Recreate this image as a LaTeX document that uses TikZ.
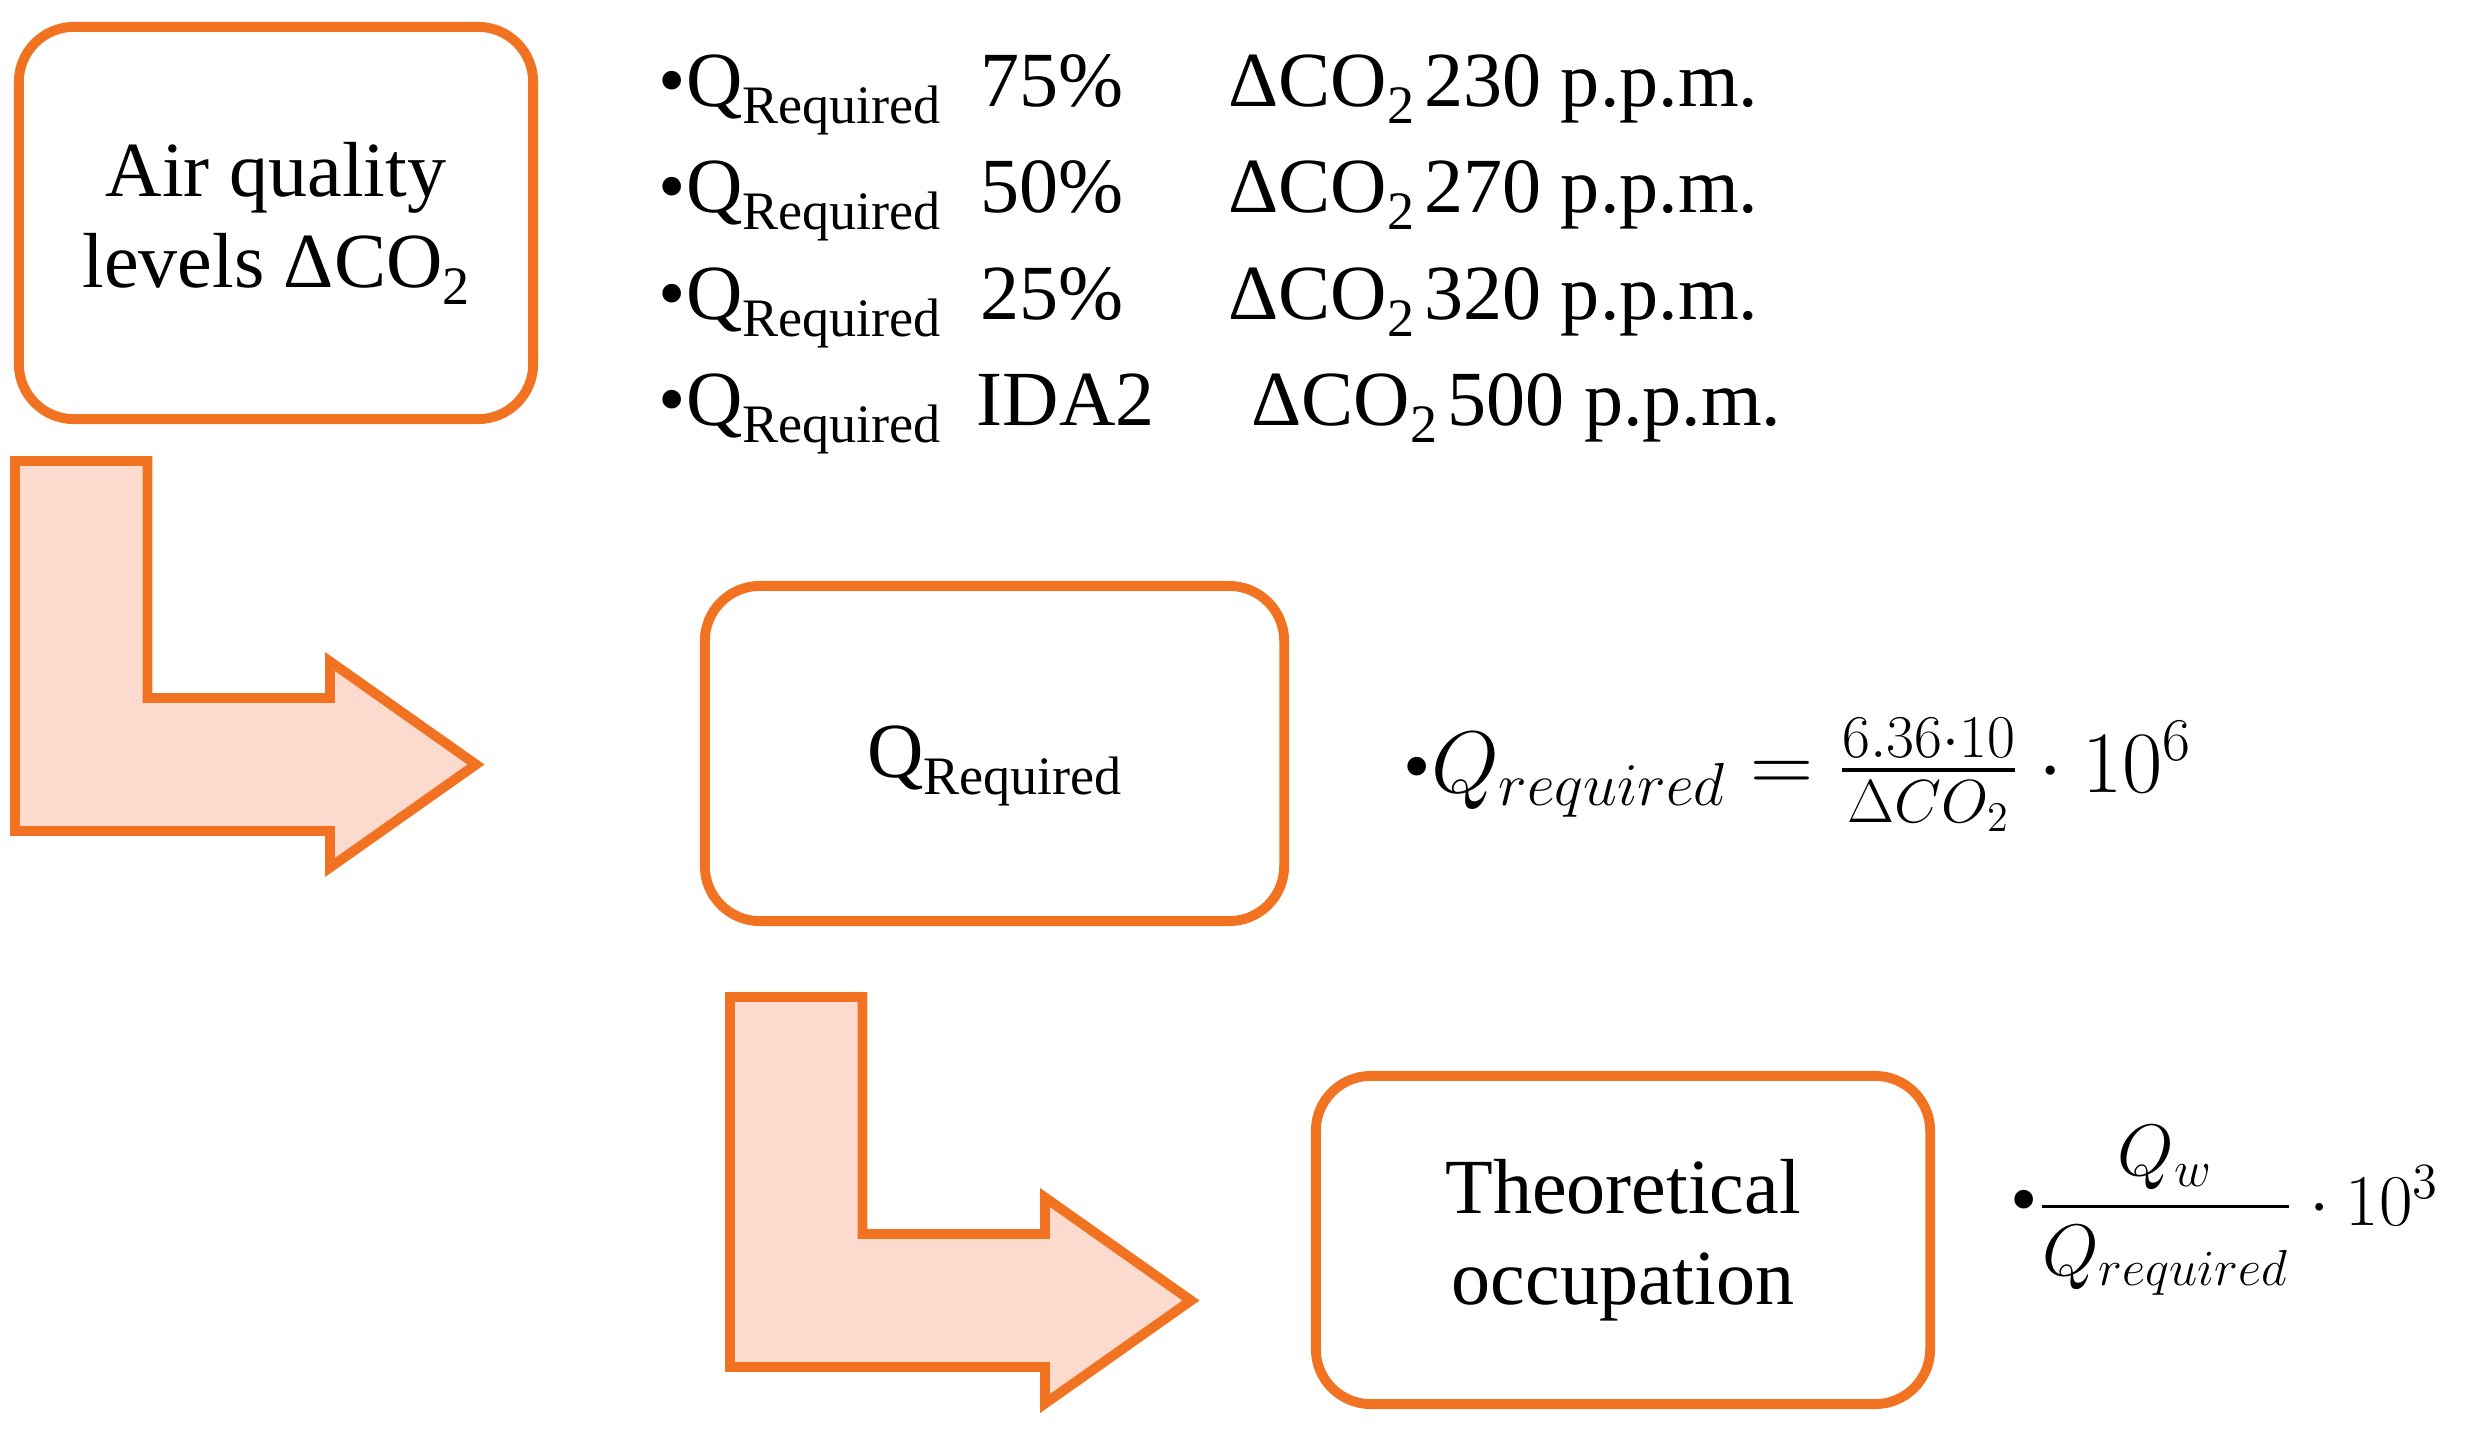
\documentclass[tikz,border=0pt]{standalone}
\usepackage{amsmath}
\usepackage{fontspec}
\setmainfont{Liberation Serif}
\definecolor{orng}{RGB}{241,115,34}
\definecolor{salmonfill}{RGB}{253,218,206}
\newcommand\mainsz{\fontsize{22.2pt}{25.9pt}\selectfont}
\newcommand\lsub[1]{\raisebox{-0.17cm}{\fontsize{15.4pt}{15.4pt}\selectfont #1}}
\newcommand\Qreq{Q\lsub{Required}}
\tikzset{
  box/.style={draw=orng, line width=2.8pt, rounded corners=0.55cm, fill=white,
    align=center, inner sep=0pt, font=\mainsz},
  lt/.style={anchor=base west, inner sep=0pt, font=\mainsz},
  mt/.style={anchor=base west, inner sep=0pt, font=\mainsz},
  larrow/.pic={
    \draw[draw=orng, fill=salmonfill, line width=2.8pt, line join=miter]
      (0,0) -- (132.5,0) -- (132.5,237) -- (315,237) -- (315,200.5)
      -- (461,303.5) -- (315,406.5) -- (315,370) -- (0,370) -- cycle;
  }
}
\begin{document}
\begin{tikzpicture}[x=0.01cm, y=-0.01cm]
\useasboundingbox (0,0) rectangle (2472,1439);

% boxes
\node[box, minimum width=5.14cm, minimum height=3.92cm] (air) at (276,223)
  {Air quality\\levels ΔCO\lsub{2}};
\node[box, minimum width=5.79cm, minimum height=3.35cm] (qreq) at (994.5,753.5)
  {\raisebox{-0.12cm}[\height][\depth]{\Qreq}};
\node[box, minimum width=6.14cm, minimum height=3.28cm] (occ) at (1623,1240)
  {Theoretical\\occupation};

% block arrows
\pic at (15,461) {larrow};
\pic at (730,997) {larrow};

% list
\node[lt] (r1a) at (658,106) {•\Qreq};
\node[lt] (r1b) at (980,106) {75\%};
\node[lt] (r1c) at (1228,106) {ΔCO\lsub{2}\hspace{0.1cm}230 p.p.m.};
\node[lt] (r2a) at (658,212.5) {•\Qreq};
\node[lt] (r2b) at (980,212.5) {50\%};
\node[lt] (r2c) at (1228,212.5) {ΔCO\lsub{2}\hspace{0.1cm}270 p.p.m.};
\node[lt] (r3a) at (658,319) {•\Qreq};
\node[lt] (r3b) at (980,319) {25\%};
\node[lt] (r3c) at (1228,319) {ΔCO\lsub{2}\hspace{0.1cm}320 p.p.m.};
\node[lt] (r4a) at (658,425) {•\Qreq};
\node[lt] (r4b) at (976,425) {IDA2};
\node[lt] (r4c) at (1251,425) {ΔCO\lsub{2}\hspace{0.1cm}500 p.p.m.};

% formulas
\node[mt] (f1) at (1403,792)
  {•{\fontsize{25.6pt}{30pt}\selectfont$Q_{required} = \frac{6.36{\cdot}10}{\Delta CO_2}\cdot 10^6$}};
\node[mt] (f2) at (2010,1225)
  {•{\fontsize{22.4pt}{27pt}\selectfont$\dfrac{Q_w}{Q_{required}}\cdot 10^3$}};
\end{tikzpicture}
\end{document}
